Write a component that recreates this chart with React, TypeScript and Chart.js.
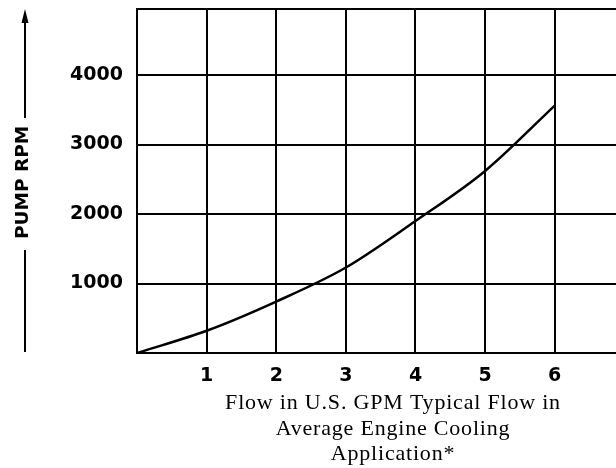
import React, { useEffect, useRef } from 'react';
import { Chart, registerables } from 'chart.js';

Chart.register(...registerables);

const flowGpm = [0, 1, 2, 3, 4, 5, 6];
const pumpRpm = [0, 320, 740, 1230, 1900, 2620, 3560];
const xTickLabels = [1, 2, 3, 4, 5, 6];
const yTickLabels = [1000, 2000, 3000, 4000];
const yAxisTitle = 'PUMP RPM';
const xAxisTitleLines = ['Flow in U.S. GPM Typical Flow in', 'Average Engine Cooling', 'Application*'];

const X_MAX = 6.88;
const Y_MAX = 4950;

const titlePlugin = {
  id: 'titles',
  afterDraw(chart: any) {
    const ctx = chart.ctx as CanvasRenderingContext2D;
    const area = chart.chartArea;
    ctx.save();
    ctx.fillStyle = '#000';
    ctx.strokeStyle = '#000';
    // top frame line of the plot area
    ctx.lineWidth = 2;
    ctx.beginPath();
    ctx.moveTo(area.left - 1, area.top);
    ctx.lineTo(area.right, area.top);
    ctx.stroke();
    // Y axis title with arrow lines
    const lx = 25;
    ctx.beginPath();
    ctx.moveTo(lx, 20);
    ctx.lineTo(lx, 118);
    ctx.moveTo(lx, 250);
    ctx.lineTo(lx, area.bottom - 1);
    ctx.stroke();
    ctx.beginPath();
    ctx.moveTo(lx, 9);
    ctx.lineTo(lx - 3.5, 23);
    ctx.lineTo(lx + 3.5, 23);
    ctx.closePath();
    ctx.fill();
    ctx.translate(28, 182.5);
    ctx.rotate(-Math.PI / 2);
    ctx.font = "bold 18.5px 'DejaVu Sans'";
    ctx.textAlign = 'center';
    ctx.textBaseline = 'alphabetic';
    ctx.fillText(yAxisTitle, 0, 0);
    ctx.restore();

    // X axis title
    ctx.save();
    ctx.fillStyle = '#000';
    ctx.font = "22px 'Liberation Serif'";
    try { (ctx as any).letterSpacing = '0.8px'; } catch (e) {}
    ctx.textAlign = 'center';
    ctx.textBaseline = 'alphabetic';
    const cx = area.left + 256;
    xAxisTitleLines.forEach((line, i) => {
      ctx.fillText(line, cx, area.bottom + 56 + i * 25.5);
    });
    ctx.restore();
  },
};

export default function App() {
  const ref = useRef<HTMLCanvasElement>(null);
  useEffect(() => {
    const tickFont = { family: "'DejaVu Sans'", size: 19, weight: 'bold' as const };
    const chart = new Chart(ref.current!, {
      type: 'line',
      data: {
        datasets: [
          {
            data: flowGpm.map((x, i) => ({ x, y: pumpRpm[i] })),
            borderColor: '#000',
            borderWidth: 2.5,
            pointRadius: 0,
            cubicInterpolationMode: 'monotone',
            fill: false,
          },
        ],
      },
      options: {
        responsive: false,
        animation: false,
        layout: { padding: { top: 9, left: 0, right: 0, bottom: 0 } },
        plugins: { legend: { display: false }, tooltip: { enabled: false } },
        scales: {
          x: {
            type: 'linear',
            min: 0,
            max: X_MAX,
            afterBuildTicks: (s: any) => {
              s.ticks = [0, ...xTickLabels].map((v) => ({ value: v }));
            },
            afterFit: (s: any) => {
              s.height = 115;
              s.paddingLeft = 0;
              s.paddingRight = 0;
            },
            grid: { color: '#000', lineWidth: 2, drawTicks: false },
            border: { color: '#000', width: 2 },
            ticks: {
              padding: 12,
              color: '#000',
              font: tickFont,
              maxRotation: 0,
              autoSkip: false,
              callback: (v: any) => (xTickLabels.includes(v) ? String(v) : ''),
            },
          },
          y: {
            type: 'linear',
            min: 0,
            max: Y_MAX,
            afterBuildTicks: (s: any) => {
              s.ticks = [0, ...yTickLabels].map((v) => ({ value: v }));
            },
            afterFit: (s: any) => {
              s.width = 137;
              s.paddingTop = 0;
              s.paddingBottom = 0;
            },
            grid: { color: '#000', lineWidth: 2, drawTicks: false },
            border: { color: '#000', width: 2 },
            ticks: {
              padding: 14,
              color: '#000',
              font: tickFont,
              autoSkip: false,
              callback: (v: any) => (yTickLabels.includes(v) ? String(v) : ''),
            },
          },
        },
      } as any,
      plugins: [titlePlugin],
    });
    return () => chart.destroy();
  }, []);
  return (
    <canvas
      ref={ref}
      width={616}
      height={468}
      style={{ position: 'absolute', left: 0, top: 0, width: 616, height: 468 }}
    />
  );
}
